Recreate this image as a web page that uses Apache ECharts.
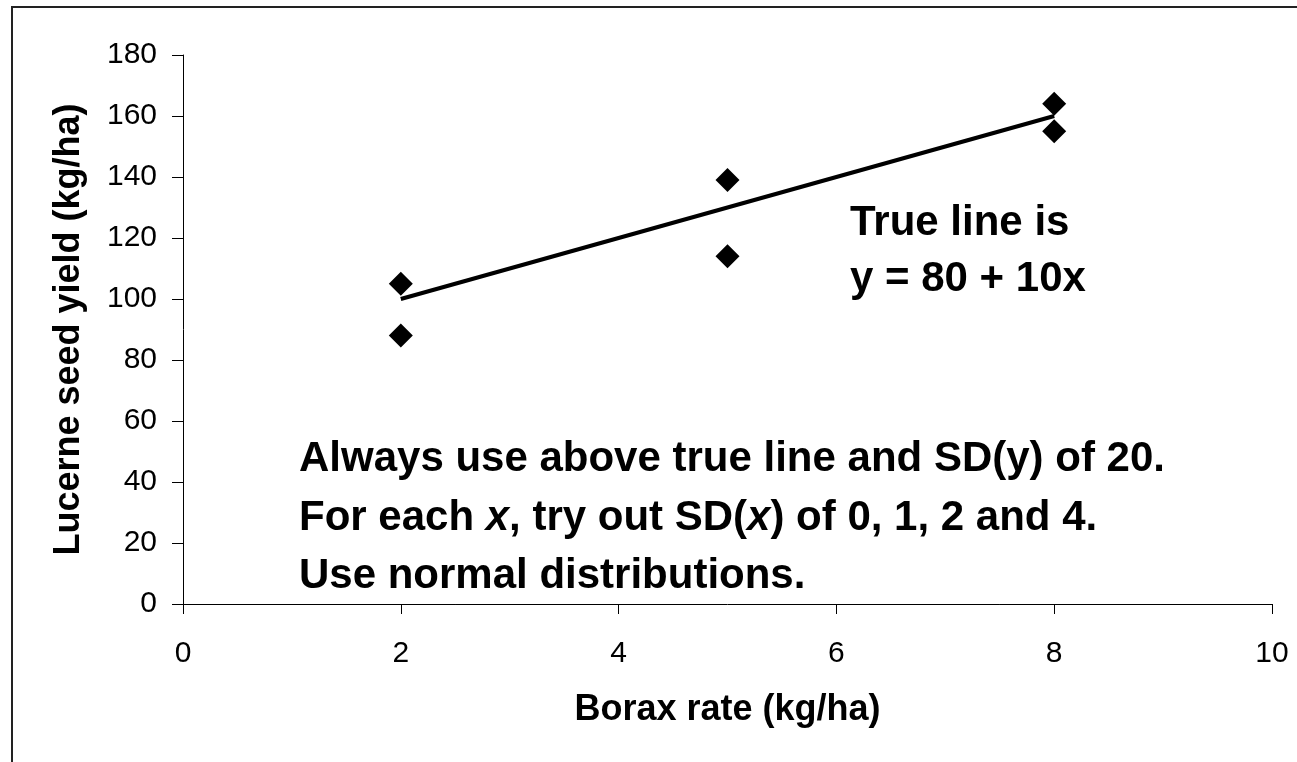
<!DOCTYPE html>
<html>
<head>
<meta charset="utf-8">
<script src="https://cdn.jsdelivr.net/npm/echarts@6/dist/echarts.min.js"></script>
<style>
  html, body { margin: 0; padding: 0; background: #fff; }
  #chart { width: 1297px; height: 762px; }
</style>
</head>
<body>
<div id="chart"></div>
<script>
// Observed yields at each borax rate
const boraxRate = [2, 2, 5, 5, 8, 8];
const seedYield = [105, 88, 139, 114, 164, 155];

// True line y = 80 + 10x, drawn between its end points
const trueLineX = [2, 8];
const trueLineY = [100, 160];

// Axis ranges and tick steps
const xRange = [0, 10, 2];
const yRange = [0, 180, 20];

// Annotation text
const trueLineNote = ['True line is', 'y = 80 + 10x'];
const instructions = [
  'Always use above true line and SD(y) of 20.',
  '{b|For each }{i|x}{b|, try out SD(}{i|x}{b|) of 0, 1, 2 and 4.}',
  'Use normal distributions.'
];

const FONT = '"Liberation Sans", Arial, Helvetica, sans-serif';

const chart = echarts.init(document.getElementById('chart'), null, { renderer: 'canvas' });

const NOTE_SIZE = 42;
const richStyles = {
  b: { fontFamily: FONT, fontSize: NOTE_SIZE, fontWeight: 'bold', fill: '#000', color: '#000' },
  i: { fontFamily: FONT, fontSize: NOTE_SIZE, fontWeight: 'bold', fontStyle: 'italic', fill: '#000', color: '#000' }
};

function textEl(text, x, y) {
  return {
    type: 'text',
    x: x,
    y: y,
    silent: true,
    style: {
      text: text,
      fontFamily: FONT,
      fontSize: NOTE_SIZE,
      fontWeight: 'bold',
      fill: '#000',
      verticalAlign: 'middle',
      align: 'left',
      rich: richStyles
    }
  };
}

const option = {
  backgroundColor: '#fff',
  animation: false,
  grid: { left: 183, right: 25, top: 55, bottom: 158, containLabel: false },
  xAxis: {
    type: 'value',
    min: xRange[0], max: xRange[1], interval: xRange[2],
    name: 'Borax rate (kg/ha)',
    nameLocation: 'middle',
    nameGap: 88,
    nameTextStyle: { fontFamily: FONT, fontSize: 36, fontWeight: 'bold', color: '#000' },
    axisLine: { show: true, onZero: false, lineStyle: { color: '#000', width: 1 } },
    axisTick: { show: true, inside: false, length: 10, lineStyle: { color: '#000', width: 1 } },
    axisLabel: { fontFamily: FONT, fontSize: 30, color: '#000', margin: 35 },
    splitLine: { show: false }
  },
  yAxis: {
    type: 'value',
    min: yRange[0], max: yRange[1], interval: yRange[2],
    name: 'Lucerne seed yield (kg/ha)',
    nameLocation: 'middle',
    nameGap: 96,
    nameRotate: 90,
    nameTextStyle: { fontFamily: FONT, fontSize: 36, fontWeight: 'bold', color: '#000' },
    axisLine: { show: true, onZero: false, lineStyle: { color: '#000', width: 1 } },
    axisTick: { show: true, inside: false, length: 11, lineStyle: { color: '#000', width: 1 } },
    axisLabel: { fontFamily: FONT, fontSize: 30, color: '#000', margin: 26 },
    splitLine: { show: false }
  },
  series: [
    {
      type: 'line',
      data: trueLineX.map((x, i) => [x, trueLineY[i]]),
      showSymbol: false,
      symbol: 'none',
      lineStyle: { color: '#000', width: 4 },
      z: 2
    },
    {
      type: 'scatter',
      data: boraxRate.map((x, i) => [x, seedYield[i]]),
      symbol: 'diamond',
      symbolSize: 24,
      itemStyle: { color: '#000', opacity: 1 },
      z: 3
    }
  ],
  graphic: [
    {
      type: 'rect',
      silent: true,
      shape: { x: 12, y: 7, width: 1400, height: 900 },
      style: { fill: 'none', stroke: '#222', lineWidth: 2 }
    },
    textEl(trueLineNote[0], 850, 223),
    textEl(trueLineNote[1], 850, 279),
    textEl(instructions[0], 299, 459),
    textEl(instructions[1], 299, 518),
    textEl(instructions[2], 299, 576)
  ]
};

chart.setOption(option);
</script>
</body>
</html>
